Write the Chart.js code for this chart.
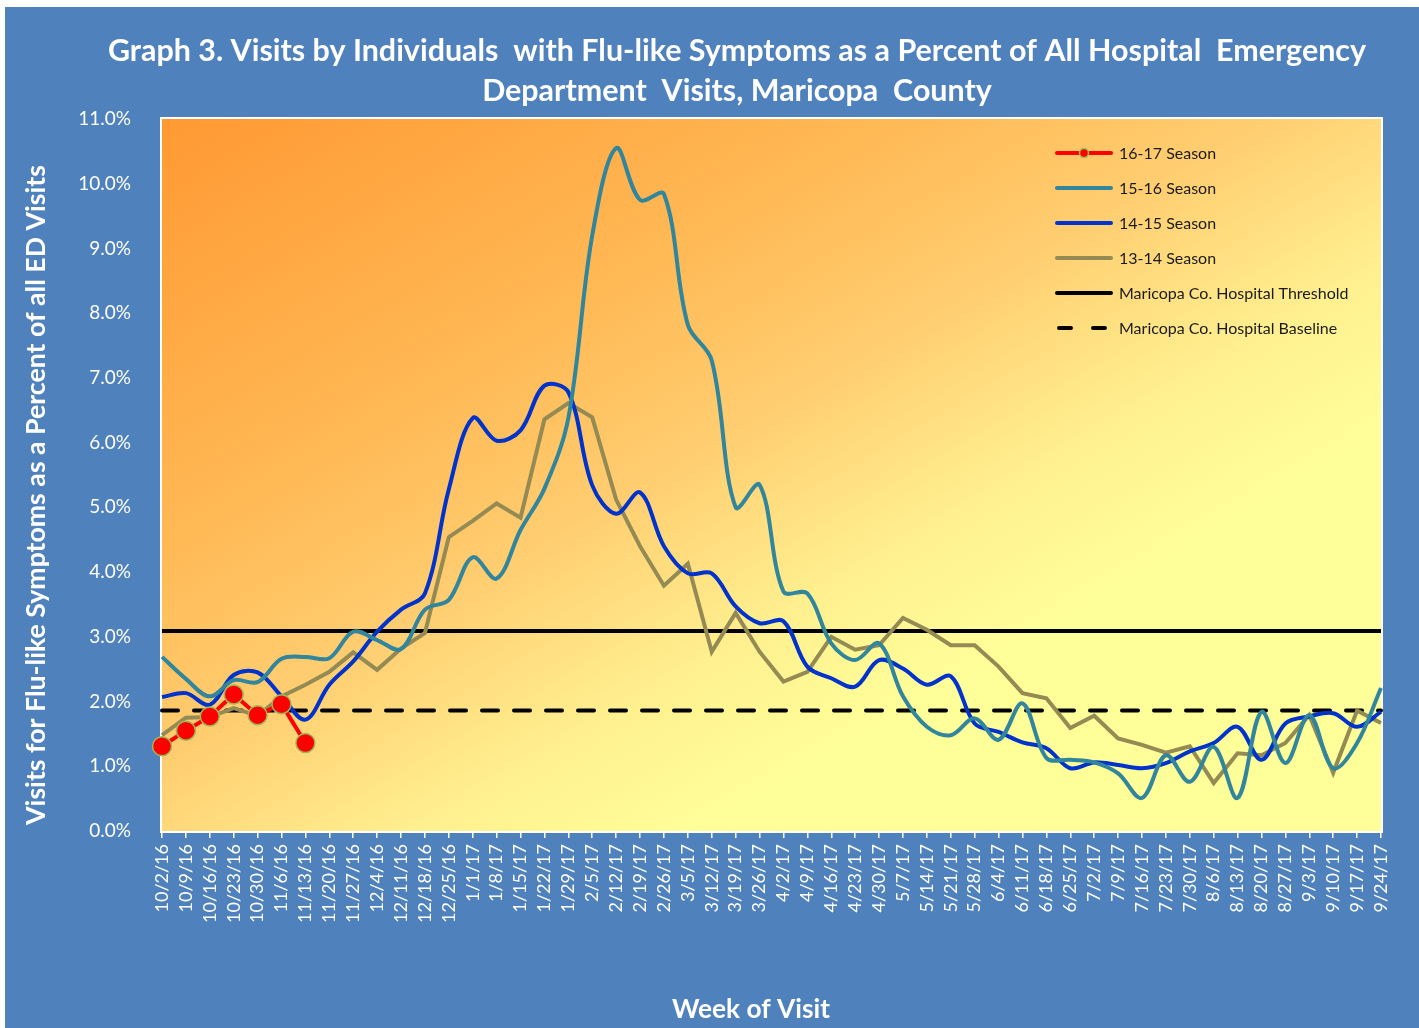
<!DOCTYPE html>
<html>
<head>
<meta charset="utf-8">
<script src="https://cdn.jsdelivr.net/npm/chart.js@4.4.1/dist/chart.umd.min.js"></script>
<style>
  html, body { margin: 0; padding: 0; background: #ffffff; }
  #wrap { width: 1419px; height: 1028px; position: relative; }
</style>
</head>
<body>
<div id="wrap"><canvas id="c" width="1419" height="1028"></canvas></div>
<script>
// ---------------- DATA ----------------
const weeks = ['10/2/16','10/9/16','10/16/16','10/23/16','10/30/16','11/6/16','11/13/16','11/20/16','11/27/16','12/4/16','12/11/16','12/18/16','12/25/16','1/1/17','1/8/17','1/15/17','1/22/17','1/29/17','2/5/17','2/12/17','2/19/17','2/26/17','3/5/17','3/12/17','3/19/17','3/26/17','4/2/17','4/9/17','4/16/17','4/23/17','4/30/17','5/7/17','5/14/17','5/21/17','5/28/17','6/4/17','6/11/17','6/18/17','6/25/17','7/2/17','7/9/17','7/16/17','7/23/17','7/30/17','8/6/17','8/13/17','8/20/17','8/27/17','9/3/17','9/10/17','9/17/17','9/24/17'];

const season1617 = [1.31, 1.55, 1.77, 2.11, 1.79, 1.96, 1.36];

const season1516 = [2.69, 2.35, 2.08, 2.33, 2.30, 2.66, 2.69, 2.67, 3.08, 2.95, 2.81, 3.42, 3.57, 4.23, 3.90, 4.65, 5.29, 6.38, 9.20, 10.55, 9.75, 9.84, 7.82, 7.27, 5.00, 5.35, 3.70, 3.67, 2.90, 2.64, 2.90, 2.08, 1.61, 1.48, 1.74, 1.41, 1.97, 1.13, 1.10, 1.06, 0.89, 0.51, 1.17, 0.76, 1.30, 0.51, 1.84, 1.05, 1.79, 0.97, 1.36, 2.21];

const season1415 = [2.07, 2.13, 1.95, 2.41, 2.45, 2.08, 1.72, 2.26, 2.62, 3.08, 3.42, 3.67, 5.28, 6.38, 6.03, 6.19, 6.88, 6.78, 5.34, 4.90, 5.23, 4.40, 3.98, 3.98, 3.47, 3.21, 3.24, 2.54, 2.36, 2.23, 2.64, 2.51, 2.26, 2.39, 1.66, 1.53, 1.37, 1.28, 0.97, 1.06, 1.02, 0.97, 1.05, 1.23, 1.36, 1.61, 1.10, 1.66, 1.77, 1.82, 1.61, 1.84];

const season1314 = [1.48, 1.75, 1.76, 1.90, 1.78, 2.08, 2.26, 2.46, 2.76, 2.49, 2.82, 3.06, 4.54, 4.79, 5.06, 4.84, 6.36, 6.61, 6.39, 5.12, 4.40, 3.79, 4.13, 2.77, 3.37, 2.77, 2.31, 2.46, 3.00, 2.80, 2.87, 3.29, 3.11, 2.87, 2.87, 2.54, 2.13, 2.05, 1.59, 1.78, 1.43, 1.33, 1.21, 1.31, 0.74, 1.20, 1.17, 1.36, 1.79, 0.90, 1.86, 1.67];

const thresholdValue = 3.09;
const baselineValue = 1.86;

const yTicks = [0,1,2,3,4,5,6,7,8,9,10,11];

const titleLines = ['Graph 3. Visits by Individuals  with Flu-like Symptoms as a Percent of All Hospital  Emergency', 'Department  Visits, Maricopa  County'];
const yTitle = 'Visits for Flu-like Symptoms as a Percent of all ED Visits';
const xTitle = 'Week of Visit';
const seriesNames = ['16-17 Season','15-16 Season','14-15 Season','13-14 Season','Maricopa Co. Hospital Threshold','Maricopa Co. Hospital Baseline'];

// ---------------- CHART ----------------
const FONT = 'Lato, "Open Sans", "Liberation Sans", sans-serif';
Chart.defaults.font.family = FONT;

function fitFont(ctx, text, weight, targetWidth, start) {
  ctx.font = weight + ' ' + start + 'px ' + FONT;
  const w = ctx.measureText(text).width;
  return Math.max(10, Math.min(start * 1.25, start * targetWidth / w));
}

const bgPlugin = {
  id: 'bgPlugin',
  beforeDraw(chart) {
    const ctx = chart.ctx, a = chart.chartArea;
    ctx.save();
    ctx.fillStyle = '#ffffff';
    ctx.fillRect(0, 0, chart.width, chart.height);
    ctx.fillStyle = '#4F81BD';
    ctx.fillRect(5, 7, chart.width - 5, chart.height - 7);
    // plot-area diagonal gradient in normalised space
    ctx.translate(a.left, a.top);
    ctx.scale(a.right - a.left, a.bottom - a.top);
    const g = ctx.createLinearGradient(0, 0, 1, 1);
    g.addColorStop(0, '#FF9933');
    g.addColorStop(0.3, '#FFB955');
    g.addColorStop(0.45, '#FFCD70');
    g.addColorStop(0.6, '#FFEF8F');
    g.addColorStop(0.72, '#FFFF99');
    g.addColorStop(1, '#FFFF99');
    ctx.fillStyle = g;
    ctx.fillRect(0, 0, 1, 1);
    ctx.restore();
    ctx.save();
    ctx.strokeStyle = '#ffffff';
    ctx.lineWidth = 2;
    ctx.strokeRect(a.left - 1, a.top - 1, a.right - a.left + 2, a.bottom - a.top + 2);
    ctx.restore();
  },
  afterDraw(chart) {
    const ctx = chart.ctx;
    ctx.save();
    ctx.fillStyle = '#ffffff';
    ctx.textAlign = 'center';
    ctx.textBaseline = 'middle';
    // main title
    const ts = fitFont(ctx, titleLines[0], 'bold', 1259, 27);
    ctx.font = 'bold ' + ts + 'px ' + FONT;
    ctx.fillText(titleLines[0], 737, 51);
    ctx.fillText(titleLines[1], 737, 91);
    // x title
    const xs = fitFont(ctx, xTitle, 'bold', 158, 25);
    ctx.font = 'bold ' + xs + 'px ' + FONT;
    ctx.fillText(xTitle, 751, 1010);
    // y title
    const ys = fitFont(ctx, yTitle, 'bold', 660, 25);
    ctx.font = 'bold ' + ys + 'px ' + FONT;
    ctx.translate(36, 495);
    ctx.rotate(-Math.PI / 2);
    ctx.fillText(yTitle, 0, 0);
    ctx.restore();

    // legend
    ctx.save();
    const ds = chart.data.datasets;
    const x0 = 1057, x1 = 1111, tx = 1119;
    ds.forEach((d, i) => {
      const y = 153 + i * 35;
      ctx.save();
      ctx.strokeStyle = d.borderColor;
      ctx.lineWidth = d.borderWidth;
      ctx.lineCap = d.borderCapStyle || 'round';
      ctx.beginPath();
      if (d.borderDash && d.borderDash.length) {
        ctx.moveTo(x0 + 2, y); ctx.lineTo(x0 + 14, y);
        ctx.moveTo(x0 + 36, y); ctx.lineTo(x0 + 48, y);
      } else {
        ctx.moveTo(x0, y); ctx.lineTo(x1, y);
      }
      ctx.stroke();
      if (d.pointRadius > 0) {
        ctx.beginPath();
        ctx.fillStyle = d.pointBackgroundColor;
        ctx.strokeStyle = d.pointBorderColor;
        ctx.lineWidth = 1.5;
        ctx.arc((x0 + x1) / 2, y, 4.5, 0, Math.PI * 2);
        ctx.fill(); ctx.stroke();
      }
      ctx.restore();
      ctx.fillStyle = '#1a1a1a';
      ctx.font = '16px ' + FONT;
      ctx.textAlign = 'left';
      ctx.textBaseline = 'middle';
      ctx.fillText(d.label, tx, y + 1);
    });
    ctx.restore();
  }
};

const ctx = document.getElementById('c').getContext('2d');
new Chart(ctx, {
  type: 'line',
  data: {
    labels: weeks,
    datasets: [
      {
        label: seriesNames[0], data: season1617,
        borderColor: '#FF0000', borderWidth: 4, tension: 0,
        pointRadius: 9.5, pointBackgroundColor: '#FF0000', pointBorderColor: '#9BBB59', pointBorderWidth: 1.5,
        pointHoverRadius: 9.5
      },
      {
        label: seriesNames[1], data: season1516,
        borderColor: '#31859C', borderWidth: 4, tension: 0.35, pointRadius: 0
      },
      {
        label: seriesNames[2], data: season1415,
        borderColor: '#0033CC', borderWidth: 4, tension: 0.35, pointRadius: 0
      },
      {
        label: seriesNames[3], data: season1314,
        borderColor: '#948A54', borderWidth: 4, tension: 0, pointRadius: 0,
        borderJoinStyle: 'miter'
      },
      {
        label: seriesNames[4],
        data: [{x: weeks[0], y: thresholdValue}, {x: weeks[weeks.length - 1], y: thresholdValue}],
        borderColor: '#000000', borderWidth: 4, tension: 0, pointRadius: 0
      },
      {
        label: seriesNames[5],
        data: [{x: weeks[0], y: baselineValue}, {x: weeks[weeks.length - 1], y: baselineValue}],
        borderColor: '#000000', borderWidth: 4, borderDash: [16, 16], borderCapStyle: 'round',
        tension: 0, pointRadius: 0
      }
    ]
  },
  options: {
    responsive: false,
    animation: false,
    layout: { padding: { top: 119, right: 38, left: 0, bottom: 0 } },
    plugins: {
      legend: { display: false },
      title: { display: false },
      tooltip: { enabled: false }
    },
    scales: {
      x: {
        type: 'category',
        offset: false,
        grid: { display: true, drawOnChartArea: false, drawTicks: true, tickLength: 7, color: '#ffffff', lineWidth: 1.5 },
        border: { display: false },
        ticks: {
          color: '#ffffff', font: { size: 18, family: FONT },
          minRotation: 90, maxRotation: 90, autoSkip: false, padding: 6
        },
        afterFit(scale) { scale.height = 197; }
      },
      y: {
        min: 0, max: 11,
        afterBuildTicks(scale) { scale.ticks = yTicks.map(v => ({ value: v })); },
        grid: { display: false },
        border: { display: false },
        ticks: {
          color: '#ffffff', font: { size: 19, family: FONT }, padding: 23,
          callback: v => Number(v).toFixed(1) + '%'
        },
        afterFit(scale) { scale.width = 162; }
      }
    }
  },
  plugins: [bgPlugin]
});
</script>
</body>
</html>
